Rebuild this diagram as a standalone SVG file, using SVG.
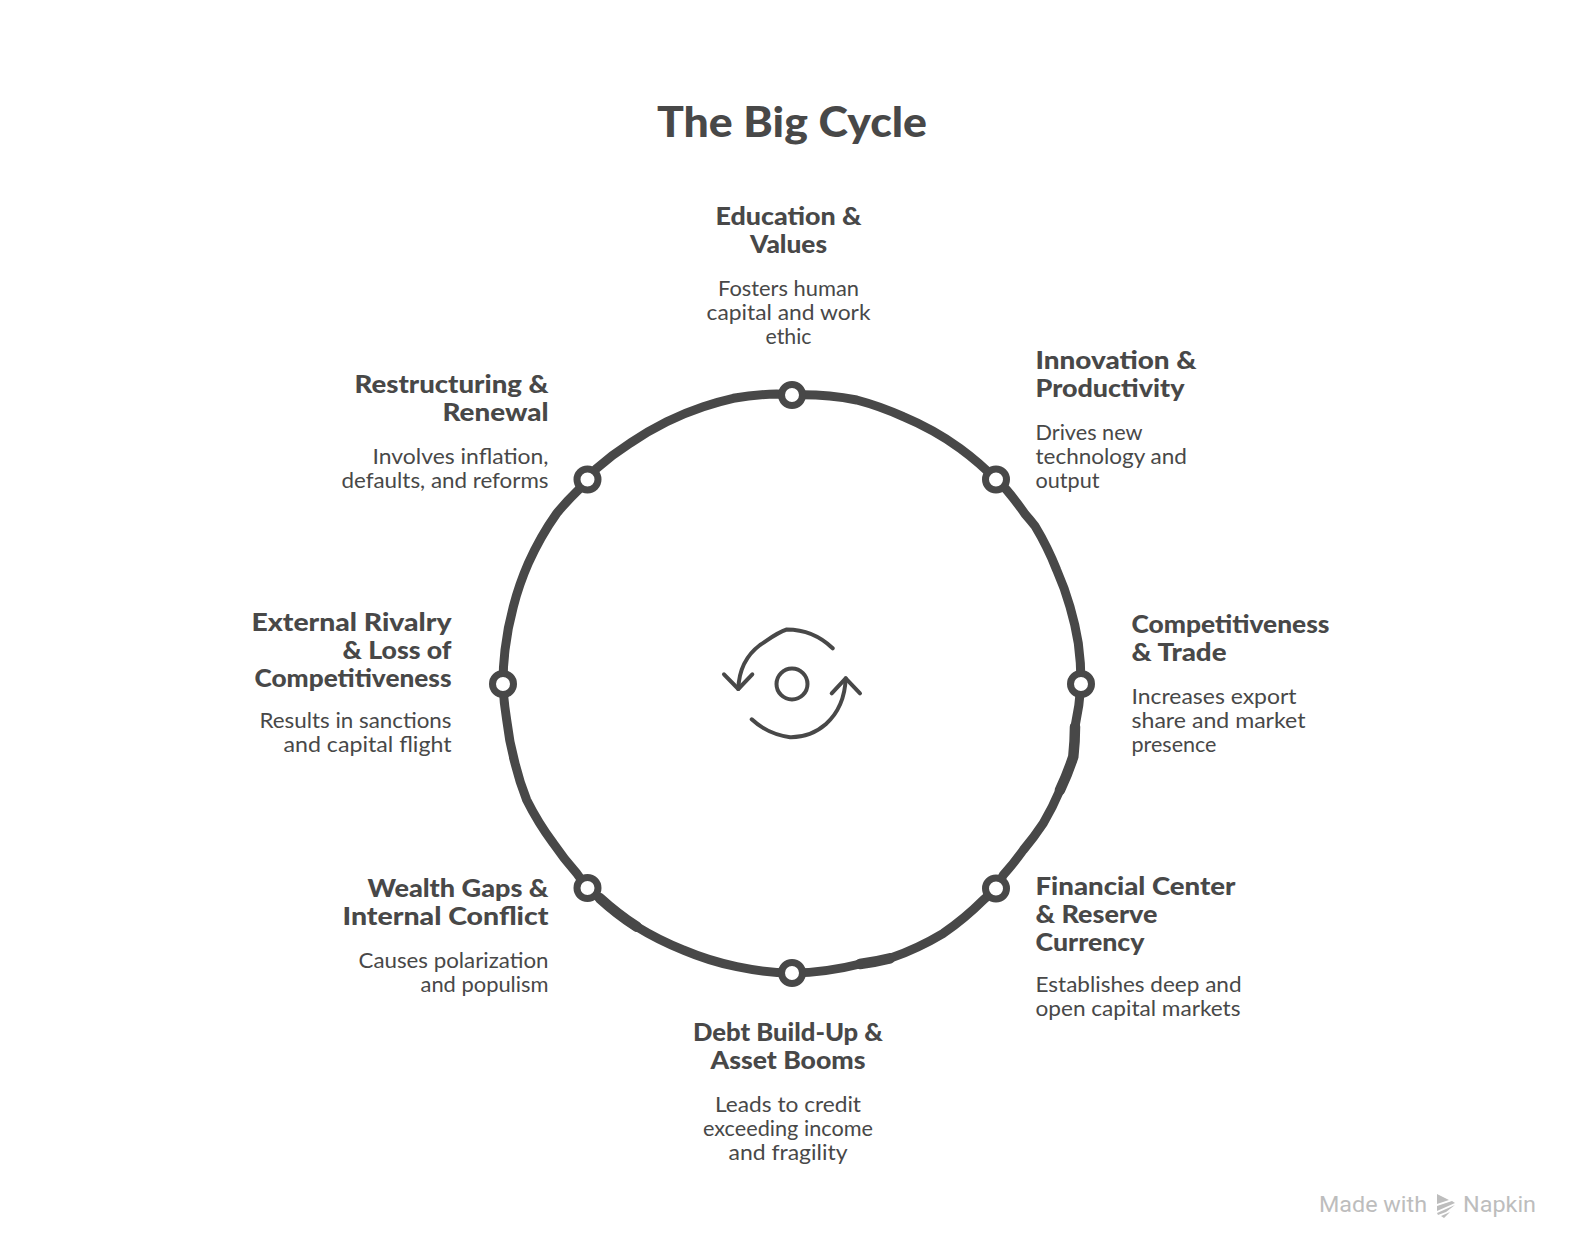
<svg xmlns="http://www.w3.org/2000/svg" width="1584" height="1260" viewBox="0 0 1584 1260">
<style>
text{font-family:"Lato","Open Sans","Liberation Sans",sans-serif;fill:#484848}
.t{font-size:42px;font-weight:900}
.h{font-size:25px;font-weight:900}
.d{font-size:21px;font-weight:400}
.m{text-anchor:middle}.e{text-anchor:end}
.ring{fill:none;stroke:#484848;stroke-width:9;stroke-linecap:round;stroke-linejoin:round}
.thick{fill:none;stroke:#484848;stroke-width:10.5;stroke-linecap:round}
.dot{fill:#fff;stroke:#484848;stroke-width:7}
.ic{fill:none;stroke:#484848;stroke-width:4;stroke-linecap:round;stroke-linejoin:round}
.wm{font-family:"Roboto","Inter",sans-serif;font-size:22.5px;fill:#bdbdbd}
</style>
<rect width="1584" height="1260" fill="#fff"/>
<text id="title" class="t m" x="792" y="137" textLength="270" lengthAdjust="spacingAndGlyphs">The Big Cycle</text>
<g id="connectors">
<path class="ring" d="M792 395A289 289 0 0 1 856.7 400A289 289 0 0 1 903.3 416.7A289 289 0 0 1 960 448.3A289 289 0 0 1 996 479.5A289 289 0 0 1 1006.7 490A289 289 0 0 1 1025 514A289 289 0 0 1 1035 526A289 289 0 0 1 1056.7 570A289 289 0 0 1 1070 606.7A289 289 0 0 1 1078.3 643.3A289 289 0 0 1 1081 684A289 289 0 0 1 1075 726.7A289 289 0 0 1 1073.3 756.7A289 289 0 0 1 1060 790A289 289 0 0 1 1043.3 823.3A289 289 0 0 1 1023.3 850A289 289 0 0 1 1003.3 875A289 289 0 0 1 996 888.5A289 289 0 0 1 983.3 900A289 289 0 0 1 943.3 933.3A289 289 0 0 1 890 958.3A289 289 0 0 1 860 964A289 289 0 0 1 792 973A289 289 0 0 1 736.7 966.7A289 289 0 0 1 683.3 950A289 289 0 0 1 636.7 926.7A289 289 0 0 1 600 898.3A289 289 0 0 1 587.5 888A289 289 0 0 1 576.7 873.3A289 289 0 0 1 553.3 843.3A289 289 0 0 1 526.7 800A289 289 0 0 1 515 763.3A289 289 0 0 1 506.7 720A289 289 0 0 1 503 684A289 289 0 0 1 505 650A289 289 0 0 1 513.3 606.7A289 289 0 0 1 528.3 563.3A289 289 0 0 1 556.7 513.3A289 289 0 0 1 578.3 490A289 289 0 0 1 587.5 479.5A289 289 0 0 1 596.7 468.3A289 289 0 0 1 630 443.3A289 289 0 0 1 666.7 421.7A289 289 0 0 1 703.3 406.7A289 289 0 0 1 733.3 398.3A289 289 0 0 1 776.7 394A289 289 0 0 1 792 395Z"/>
<path class="thick" d="M890 958.3A289 289 0 0 1 860 964"/>
<path class="thick" d="M1075 726.7A289 289 0 0 1 1073.3 756.7A289 289 0 0 1 1060 790"/>
<path class="thick" d="M636.7 926.7A289 289 0 0 1 600 898.3"/>
</g>
<g id="cycle-icon">
<circle class="ic" cx="792" cy="684" r="15.5"/>
<path class="ic" d="M832.7 648.3C820 636 804 629.5 786.7 629.5C776 633 768 640 760 645C748 654 739 668 738.3 689"/>
<path class="ic" d="M724 674.3L738.3 689L752.3 674.3"/>
<path class="ic" d="M751.7 719.3C762 729 775 735 790 737.2C805 737.5 818 731 826 724C837 714 845 698 845.7 678.3"/>
<path class="ic" d="M831.7 693.3L845.7 678.3L860 693.3"/>
</g>
<g id="node-education">
<circle class="dot" cx="792" cy="395" r="10.5"/>
<text class="h m" x="788.5" y="225" textLength="146" lengthAdjust="spacingAndGlyphs">Education &amp;</text>
<text class="h m" x="788.5" y="253" textLength="77" lengthAdjust="spacingAndGlyphs">Values</text>
<text class="d m" x="788.5" y="296" textLength="141" lengthAdjust="spacingAndGlyphs">Fosters human</text>
<text class="d m" x="788.5" y="320" textLength="164" lengthAdjust="spacingAndGlyphs">capital and work</text>
<text class="d m" x="788.5" y="344" textLength="46" lengthAdjust="spacingAndGlyphs">ethic</text>
</g>
<g id="node-innovation">
<circle class="dot" cx="996" cy="479.5" r="10.5"/>
<text class="h" x="1035.5" y="369" textLength="161" lengthAdjust="spacingAndGlyphs">Innovation &amp;</text>
<text class="h" x="1035.5" y="397" textLength="149" lengthAdjust="spacingAndGlyphs">Productivity</text>
<text class="d" x="1035.5" y="440" textLength="107" lengthAdjust="spacingAndGlyphs">Drives new</text>
<text class="d" x="1035.5" y="464" textLength="151.5" lengthAdjust="spacingAndGlyphs">technology and</text>
<text class="d" x="1035.5" y="488" textLength="64" lengthAdjust="spacingAndGlyphs">output</text>
</g>
<g id="node-competitiveness">
<circle class="dot" cx="1081" cy="684" r="10.5"/>
<text class="h" x="1131.5" y="633" textLength="198" lengthAdjust="spacingAndGlyphs">Competitiveness</text>
<text class="h" x="1131.5" y="661" textLength="95" lengthAdjust="spacingAndGlyphs">&amp; Trade</text>
<text class="d" x="1131.5" y="704" textLength="165" lengthAdjust="spacingAndGlyphs">Increases export</text>
<text class="d" x="1131.5" y="728" textLength="174" lengthAdjust="spacingAndGlyphs">share and market</text>
<text class="d" x="1131.5" y="752" textLength="85" lengthAdjust="spacingAndGlyphs">presence</text>
</g>
<g id="node-financial">
<circle class="dot" cx="996" cy="888.5" r="10.5"/>
<text class="h" x="1035.5" y="895" textLength="200" lengthAdjust="spacingAndGlyphs">Financial Center</text>
<text class="h" x="1035.5" y="923" textLength="122" lengthAdjust="spacingAndGlyphs">&amp; Reserve</text>
<text class="h" x="1035.5" y="951" textLength="109" lengthAdjust="spacingAndGlyphs">Currency</text>
<text class="d" x="1035.5" y="992" textLength="206" lengthAdjust="spacingAndGlyphs">Establishes deep and</text>
<text class="d" x="1035.5" y="1016" textLength="205" lengthAdjust="spacingAndGlyphs">open capital markets</text>
</g>
<g id="node-debt">
<circle class="dot" cx="792" cy="973" r="10.5"/>
<text class="h m" x="788" y="1040.5" textLength="190" lengthAdjust="spacingAndGlyphs">Debt Build-Up &amp;</text>
<text class="h m" x="788" y="1068.5" textLength="155" lengthAdjust="spacingAndGlyphs">Asset Booms</text>
<text class="d m" x="788" y="1112" textLength="146" lengthAdjust="spacingAndGlyphs">Leads to credit</text>
<text class="d m" x="788" y="1136" textLength="170" lengthAdjust="spacingAndGlyphs">exceeding income</text>
<text class="d m" x="788" y="1160" textLength="119" lengthAdjust="spacingAndGlyphs">and fragility</text>
</g>
<g id="node-wealth">
<circle class="dot" cx="587.5" cy="888" r="10.5"/>
<text class="h e" x="548.5" y="897" textLength="181" lengthAdjust="spacingAndGlyphs">Wealth Gaps &amp;</text>
<text class="h e" x="548.5" y="925" textLength="206" lengthAdjust="spacingAndGlyphs">Internal Conflict</text>
<text class="d e" x="548.5" y="968" textLength="190" lengthAdjust="spacingAndGlyphs">Causes polarization</text>
<text class="d e" x="548.5" y="992" textLength="128" lengthAdjust="spacingAndGlyphs">and populism</text>
</g>
<g id="node-external">
<circle class="dot" cx="503" cy="684" r="10.5"/>
<text class="h e" x="451.5" y="630.5" textLength="200" lengthAdjust="spacingAndGlyphs">External Rivalry</text>
<text class="h e" x="451.5" y="658.5" textLength="109" lengthAdjust="spacingAndGlyphs">&amp; Loss of</text>
<text class="h e" x="451.5" y="686.5" textLength="197" lengthAdjust="spacingAndGlyphs">Competitiveness</text>
<text class="d e" x="451.5" y="728" textLength="192" lengthAdjust="spacingAndGlyphs">Results in sanctions</text>
<text class="d e" x="451.5" y="752" textLength="168" lengthAdjust="spacingAndGlyphs">and capital flight</text>
</g>
<g id="node-restructuring">
<circle class="dot" cx="587.5" cy="479.5" r="10.5"/>
<text class="h e" x="548.5" y="393" textLength="194" lengthAdjust="spacingAndGlyphs">Restructuring &amp;</text>
<text class="h e" x="548.5" y="421" textLength="106" lengthAdjust="spacingAndGlyphs">Renewal</text>
<text class="d e" x="548.5" y="464" textLength="176" lengthAdjust="spacingAndGlyphs">Involves inflation,</text>
<text class="d e" x="548.5" y="488" textLength="207" lengthAdjust="spacingAndGlyphs">defaults, and reforms</text>
</g>
<g id="watermark">
<text class="wm" x="1319" y="1212" textLength="108" lengthAdjust="spacingAndGlyphs">Made with</text>
<path fill="#bdbdbd" d="M1437 1194L1449 1200L1437 1204ZM1437 1206L1452 1201L1455 1203L1437 1211ZM1437 1213L1455 1205L1446 1212L1438 1215ZM1441 1216L1450 1212L1444 1218Z"/>
<text class="wm" x="1463" y="1212" textLength="73" lengthAdjust="spacingAndGlyphs">Napkin</text>
</g>
</svg>
